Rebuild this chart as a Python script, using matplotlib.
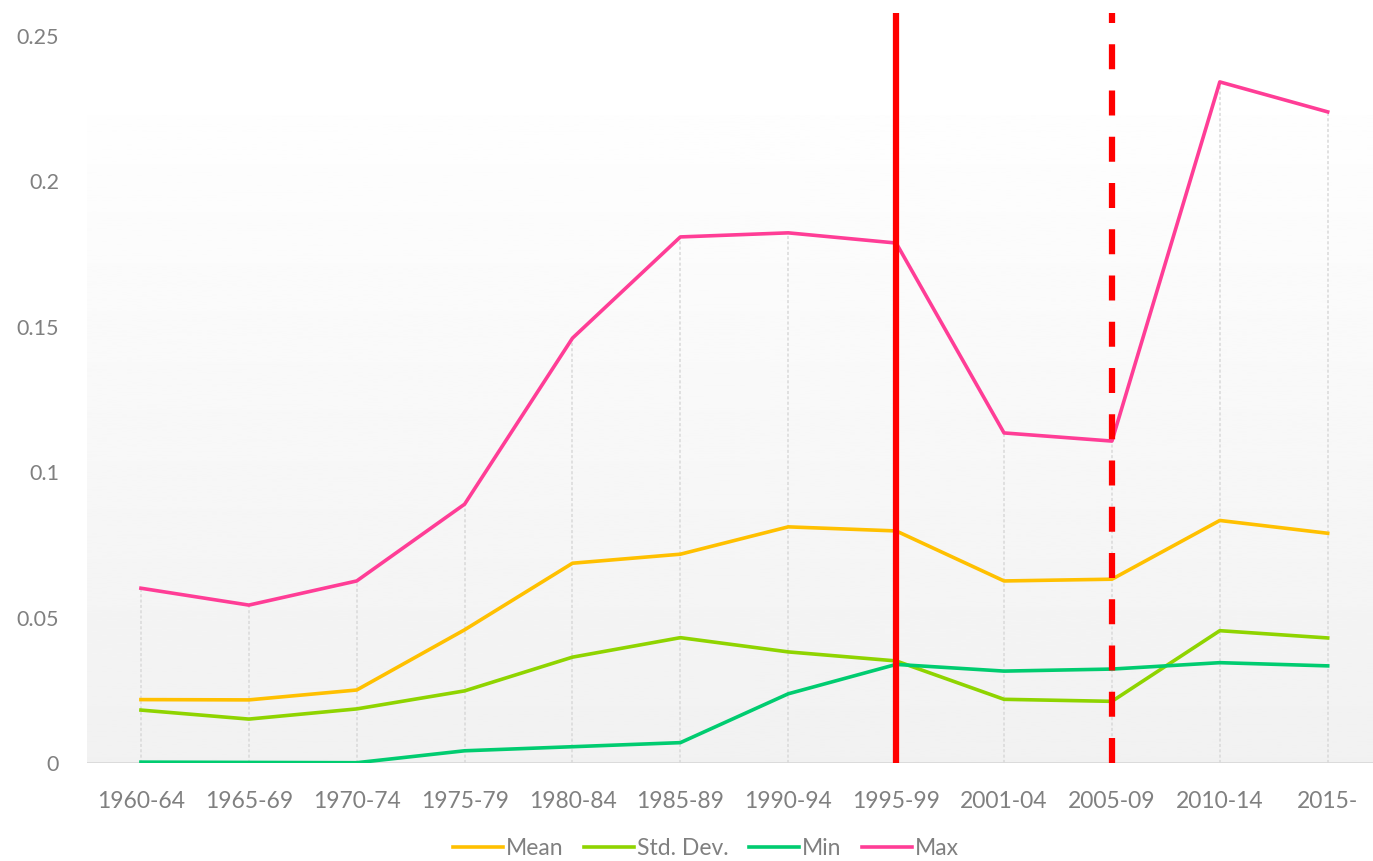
import numpy as np
import matplotlib
matplotlib.use("Agg")
import matplotlib.pyplot as plt

# data
periods = ['1960-64', '1965-69', '1970-74', '1975-79', '1980-84', '1985-89',
           '1990-94', '1995-99', '2001-04', '2005-09', '2010-14', '2015-']
mean_vals = [0.0218, 0.0217, 0.0251, 0.0458, 0.0687, 0.0718, 0.0812, 0.0798, 0.0626, 0.0632, 0.0834, 0.0790]
std_vals = [0.0182, 0.0151, 0.0186, 0.0248, 0.0364, 0.0431, 0.0382, 0.0351, 0.0219, 0.0212, 0.0455, 0.0430]
min_vals = [0.0003, 0.0002, 0.0001, 0.0042, 0.0056, 0.0070, 0.0238, 0.0339, 0.0316, 0.0323, 0.0345, 0.0334]
max_vals = [0.0601, 0.0543, 0.0626, 0.0890, 0.1461, 0.1809, 0.1823, 0.1788, 0.1135, 0.1107, 0.2342, 0.2239]
y_ticks = [0, 0.05, 0.1, 0.15, 0.2, 0.25]
y_tick_labels = ['0', '0.05', '0.1', '0.15', '0.2', '0.25']
solid_marker = '1995-99'
dashed_marker = '2005-09'

plt.rcParams['font.family'] = ['Lato', 'DejaVu Sans']
grey = '#808080'

fig = plt.figure(figsize=(13.73, 8.61), dpi=100)
ax = fig.add_axes([87 / 1373, 1 - 763 / 861, 1 - 87 / 1373, 750 / 861])

x = np.arange(len(periods))
xmin, xmax = -0.5, 11.42
ytop = 0.2579
ax.set_xlim(xmin, xmax)
ax.set_ylim(0, ytop)

# plot area gradient (white at top -> light grey at bottom)
grad = np.linspace(0.996, 0.945, 256).reshape(-1, 1)
ax.imshow(grad, extent=[xmin, xmax, 0, 0.2228], aspect='auto', cmap='gray',
          vmin=0, vmax=1, zorder=0, origin='upper')

# drop lines from the max series
ax.vlines(x, 0, max_vals, colors='#d9d9d9', linestyles=(0, (2, 1.5)), linewidth=1.1, zorder=1)

ax.plot(x, mean_vals, color='#FFC000', lw=2.6, label='Mean', zorder=3)
ax.plot(x, std_vals, color='#8FD400', lw=2.6, label='Std. Dev.', zorder=3)
ax.plot(x, min_vals, color='#00CC70', lw=2.6, label='Min', zorder=3)
ax.plot(x, max_vals, color='#FF3D96', lw=2.6, label='Max', zorder=3)

# red reference lines
xs = periods.index(solid_marker)
xd = periods.index(dashed_marker)
ax.plot([xs, xs], [0, ytop], color='#FF0000', lw=4.5, zorder=4, solid_capstyle='butt')
ax.plot([xd, xd], [0, ytop], color='#FF0000', lw=4.5, zorder=4,
        dashes=(4.0, 3.4), dash_capstyle='butt')

ax.axhline(0, color='#d9d9d9', lw=2, zorder=2)

for s in ax.spines.values():
    s.set_visible(False)

ax.set_xticks(x)
ax.set_xticklabels(periods, fontsize=16.5, color=grey)
ax.set_yticks(y_ticks)
ax.set_yticklabels(y_tick_labels, fontsize=15.5, color=grey)
ax.tick_params(axis='both', length=0)
ax.tick_params(axis='x', pad=20)
ax.tick_params(axis='y', pad=20)

fig.legend(loc='lower center', bbox_to_anchor=(0.514, -0.022), ncol=4, frameon=False,
           fontsize=16.5, labelcolor=grey, handlelength=2.2, handletextpad=0.1,
           columnspacing=0.9)

fig.savefig('out.png', dpi=100)
